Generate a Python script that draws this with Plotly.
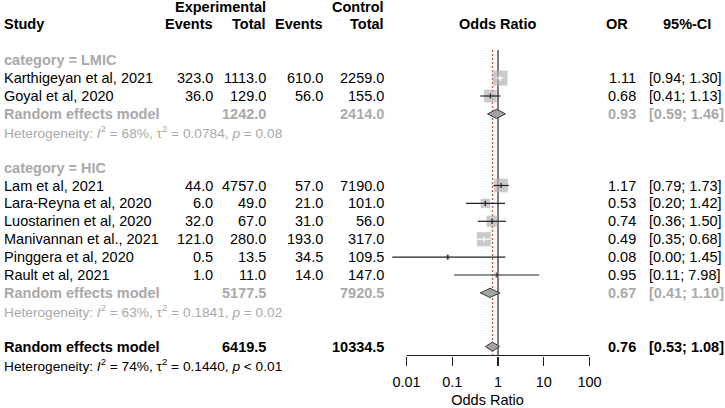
import math
import plotly.graph_objects as go

# ---------------- data ----------------
studies = ["Karthigeyan et al, 2021", "Goyal et al, 2020",
           "Lam et al, 2021", "Lara-Reyna et al, 2020", "Luostarinen et al, 2020",
           "Manivannan et al., 2021", "Pinggera et al, 2020", "Rault et al, 2021"]
study_group = ["LMIC", "LMIC", "HIC", "HIC", "HIC", "HIC", "HIC", "HIC"]
exp_events = [323.0, 36.0, 44.0, 6.0, 32.0, 121.0, 0.5, 1.0]
exp_total = [1113.0, 129.0, 4757.0, 49.0, 67.0, 280.0, 13.5, 11.0]
ctrl_events = [610.0, 56.0, 57.0, 21.0, 31.0, 193.0, 34.5, 14.0]
ctrl_total = [2259.0, 155.0, 7190.0, 101.0, 56.0, 317.0, 109.5, 147.0]
odds_ratio = [1.11, 0.68, 1.17, 0.53, 0.74, 0.49, 0.08, 0.95]
ci_lower = [0.94, 0.41, 0.79, 0.20, 0.36, 0.35, 0.0049, 0.11]
ci_upper = [1.30, 1.13, 1.73, 1.42, 1.50, 0.68, 1.45, 7.98]
weight_pct = [22.1, 15.8, 18.1, 8.5, 12.1, 19.4, 1.5, 2.5]

groups = ["LMIC", "HIC"]
group_exp_total = [1242.0, 5177.5]
group_ctrl_total = [2414.0, 7920.5]
group_or = [0.93, 0.67]
group_lower = [0.59, 0.41]
group_upper = [1.46, 1.10]
group_i2 = [68, 63]
group_tau2 = ["0.0784", "0.1841"]
group_p = ["= 0.08", "= 0.02"]

overall_exp_total = 6419.5
overall_ctrl_total = 10334.5
overall_or = 0.76
overall_lower = 0.53
overall_upper = 1.08
overall_i2 = 74
overall_tau2 = "0.1440"
overall_p = "< 0.01"

tick_vals = [0.01, 0.1, 1, 10, 100]
tick_text = ["0.01", "0.1", "1", "10", "100"]

# ---------------- layout constants ----------------
W, H = 725, 408
ROW0, ROWH = 6.5, 17.9          # pixel centre of row 0 and row height
FONT = "Liberation Sans, Arial, sans-serif"
FS = 14.5
FS_HET = 13.7
BLACK = "#000000"
GREY = "#A9A9A9"
LINE = "#222222"
SQUARE = "#B4B4B4"
DIAMOND = "#A3A3A3"

PX_DEC = 45.75                  # pixels per decade on the OR axis
X_ONE = 498.0                   # pixel of OR = 1
DOM_L, DOM_R = 370.0, 605.0
x_range = [(DOM_L - X_ONE) / PX_DEC, (DOM_R - X_ONE) / PX_DEC]
y_range = [(H - ROW0) / ROWH, -ROW0 / ROWH]
AXIS_PX = 355.5
axis_row = (AXIS_PX - ROW0) / ROWH
line_top_row = (50 - ROW0) / ROWH

fig = go.Figure()
ann = []


def txt(xpx, row, s, anchor, color=BLACK, bold=False, size=FS):
    if bold:
        s = "<b>" + s + "</b>"
    ann.append(dict(x=xpx / W, xref="paper", y=row, yref="y", text=s,
                    xanchor=anchor, yanchor="middle", showarrow=False,
                    font=dict(family=FONT, size=size, color=color)))


X_STUDY, X_EEV, X_ETOT, X_CEV, X_CTOT = 2, 215, 268, 325, 386
X_OR, X_CI = 638, 647

# headers
txt(X_ETOT, 0, "Experimental", "right", bold=True)
txt(X_CTOT, 0, "Control", "right", bold=True)
txt(X_STUDY, 1, "Study", "left", bold=True)
txt(X_EEV, 1, "Events", "right", bold=True)
txt(X_ETOT, 1, "Total", "right", bold=True)
txt(X_CEV, 1, "Events", "right", bold=True)
txt(X_CTOT, 1, "Total", "right", bold=True)
txt(X_ONE, 1, "Odds Ratio", "center", bold=True)
txt(630, 1, "OR", "right", bold=True)
txt(713, 1, "95%-CI", "right", bold=True)


def het(i2, tau2, p):
    return ("Heterogeneity: <i>I</i><sup>2</sup> = %d%%, τ<sup>2</sup> = %s, <i>p</i> %s"
            % (i2, tau2, p))


def diamond(row, est, lo, hi):
    h = 4.6 / ROWH
    fig.add_trace(go.Scatter(x=[lo, est, hi, est, lo], y=[row, row - h, row, row + h, row],
                             mode="lines", fill="toself", fillcolor=DIAMOND,
                             line=dict(color="#3a3a3a", width=1), hoverinfo="skip"))


sq_x, sq_y, sq_s = [], [], []
ci_traces = []
row = 3
for gi, g in enumerate(groups):
    txt(X_STUDY, row, "category = " + g, "left", GREY, bold=True)
    row += 1
    for i, s in enumerate(studies):
        if study_group[i] != g:
            continue
        txt(X_STUDY, row, s, "left")
        txt(X_EEV, row, "%.1f" % exp_events[i], "right")
        txt(X_ETOT, row, "%.1f" % exp_total[i], "right")
        txt(X_CEV, row, "%.1f" % ctrl_events[i], "right")
        txt(X_CTOT, row, "%.1f" % ctrl_total[i], "right")
        txt(X_OR, row, "%.2f" % odds_ratio[i], "right")
        txt(X_CI, row, "[%.2f; %.2f]" % (ci_lower[i], ci_upper[i]), "left")
        size = 3.2 * math.sqrt(weight_pct[i])
        sq_x.append(odds_ratio[i]); sq_y.append(row); sq_s.append(size)
        reach = max(math.log10(odds_ratio[i]) - math.log10(ci_lower[i]),
                    math.log10(ci_upper[i]) - math.log10(odds_ratio[i])) * PX_DEC
        col = "white" if reach <= size / 2 else LINE
        ci_traces.append((row, odds_ratio[i], ci_lower[i], ci_upper[i], col))
        row += 1
    txt(X_STUDY, row, "Random effects model", "left", GREY, bold=True)
    txt(X_ETOT, row, "%.1f" % group_exp_total[gi], "right", GREY, bold=True)
    txt(X_CTOT, row, "%.1f" % group_ctrl_total[gi], "right", GREY, bold=True)
    txt(X_OR, row, "%.2f" % group_or[gi], "right", GREY, bold=True)
    txt(X_CI, row, "[%.2f; %.2f]" % (group_lower[gi], group_upper[gi]), "left", GREY, bold=True)
    diamond(row, group_or[gi], group_lower[gi], group_upper[gi])
    row += 1
    txt(X_STUDY, row, het(group_i2[gi], group_tau2[gi], group_p[gi]), "left", GREY, size=FS_HET)
    row += 2

txt(X_STUDY, row, "Random effects model", "left", bold=True)
txt(X_ETOT, row, "%.1f" % overall_exp_total, "right", bold=True)
txt(X_CTOT, row, "%.1f" % overall_ctrl_total, "right", bold=True)
txt(X_OR, row, "%.2f" % overall_or, "right", bold=True)
txt(X_CI, row, "[%.2f; %.2f]" % (overall_lower, overall_upper), "left", bold=True)
diamond(row, overall_or, overall_lower, overall_upper)
txt(X_STUDY, row + 1, het(overall_i2, overall_tau2, overall_p), "left", size=FS_HET)

# squares
fig.add_trace(go.Scatter(x=sq_x, y=sq_y, mode="markers",
                         marker=dict(symbol="square", size=sq_s, color=SQUARE,
                                     line=dict(width=0)), hoverinfo="skip"))
# CI lines and estimate ticks
for (r, est, lo, hi, col) in ci_traces:
    fig.add_trace(go.Scatter(x=[lo, hi], y=[r, r], mode="lines",
                             line=dict(color=col, width=1.2), hoverinfo="skip"))
    fig.add_trace(go.Scatter(x=[est, est], y=[r - 2.6 / ROWH, r + 2.6 / ROWH], mode="lines",
                             line=dict(color=col, width=1.2), hoverinfo="skip"))

# reference lines and axis line
shapes = [
    dict(type="line", xref="x", yref="y", x0=1, x1=1, y0=line_top_row, y1=axis_row,
         line=dict(color=LINE, width=1.2), layer="below"),
    dict(type="line", xref="x", yref="y", x0=overall_or, x1=overall_or,
         y0=line_top_row, y1=axis_row,
         line=dict(color="rgb(228,80,80)", width=1.4, dash="2px,2px"), layer="below"),
    dict(type="line", xref="x", yref="y", x0=tick_vals[0], x1=tick_vals[-1],
         y0=axis_row, y1=axis_row, line=dict(color=LINE, width=1.2)),
]

fig.update_layout(
    width=W, height=H, margin=dict(l=0, r=0, t=0, b=0),
    paper_bgcolor="white", plot_bgcolor="rgba(0,0,0,0)", showlegend=False,
    annotations=ann, shapes=shapes,
    xaxis=dict(type="log", range=x_range, domain=[DOM_L / W, DOM_R / W],
               anchor="free", position=1 - AXIS_PX / H, side="bottom",
               showgrid=False, zeroline=False, showline=False,
               tickmode="array", tickvals=tick_vals, ticktext=tick_text,
               ticks="outside", ticklen=9, tickwidth=1.2, tickcolor=LINE,
               ticklabelstandoff=4,
               tickfont=dict(family=FONT, size=FS, color=BLACK),
               title=dict(text="Odds Ratio", font=dict(family=FONT, size=FS, color=BLACK),
                          standoff=6)),
    yaxis=dict(range=y_range, visible=False, domain=[0, 1], fixedrange=True),
)

fig.write_html("out.html", config={"displayModeBar": False, "staticPlot": True},
               post_script="document.body.style.margin='0';document.body.style.overflow='hidden';")
